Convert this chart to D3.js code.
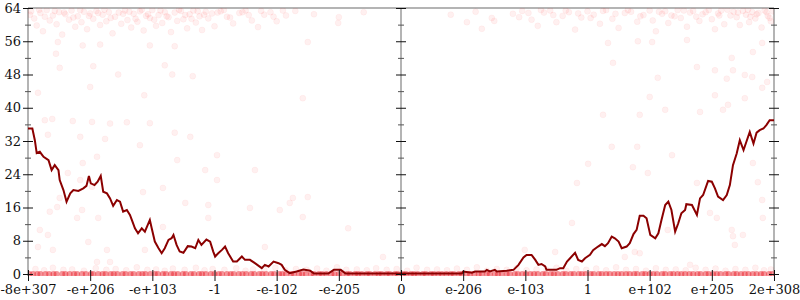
<!DOCTYPE html>
<html>
<head>
<meta charset="utf-8">
<script src="https://cdn.jsdelivr.net/npm/d3@7"></script>
<style>
  body { margin: 0; background: #fff; }
</style>
</head>
<body>
<svg id="chart" width="800" height="300"></svg>
<script>
// x positions are in "tick units": 0 = -8e+307 ... 6 = 0 ... 12 = 2e+308
var xLabels = ["-8e+307", "-e+206", "-e+103", "-1", "-e-102", "-e-205", "0",
               "e-206", "e-103", "1", "e+102", "e+205", "2e+308"];
var yMajor = [0, 8, 16, 24, 32, 40, 48, 56, 64];
var yMinor = [4, 12, 20, 28, 36, 44, 52, 60];

// points piled up near 64 bits of error
var topPts = [[0.05,63.2],[0.1,61.5],[0.14,59.8],[0.2,62.8],[0.24,58.4],[0.3,63.5],[0.35,61.0],[0.4,62.2],
  [0.46,60.1],[0.5,63.0],[0.55,57.6],[0.6,62.5],[0.66,61.2],[0.7,63.4],[0.76,59.5],[0.8,62.0],[0.86,60.6],
  [0.9,63.1],[0.95,58.9],[1.0,62.7],[1.05,61.4],[1.1,63.3],[1.16,59.9],[1.2,62.4],[1.26,60.8],[1.3,63.0],
  [1.36,57.9],[1.4,61.9],[1.46,62.9],[1.5,60.2],[1.56,63.4],[1.6,61.1],[1.66,59.3],[1.7,62.6],[1.76,60.7],
  [1.8,63.2],[1.86,58.6],[1.9,62.1],[1.96,61.6],[2.0,63.5],[2.06,59.7],[2.1,62.3],[2.16,60.4],[2.2,63.0],
  [2.26,61.8],[2.3,58.2],[2.36,62.9],[2.4,60.9],[2.46,63.3],[2.5,61.3],[2.56,59.1],[2.6,62.5],[2.66,63.4],
  [2.7,60.5],[2.76,62.0],[2.8,58.7],[2.86,63.1],[2.9,61.5],[2.96,62.7],[3.0,59.6],[3.1,63.2],[3.2,61.9],
  [3.3,60.3],[3.4,62.8],[3.5,63.4],[3.6,61.0],[3.7,59.4],[3.8,62.4],[3.9,63.0],[4.0,60.8],[4.15,62.2],
  [4.3,63.3],[4.6,62.5],[5.0,61.8],[5.4,63.0],[6.8,62.4],[7.2,63.1],[7.5,60.9],
  [7.8,62.6],[7.95,63.3],[8.1,61.2],[8.2,59.7],[8.3,62.9],[8.4,63.4],[8.5,60.6],[8.6,62.1],[8.7,63.0],
  [8.8,58.8],[8.9,61.7],[9.0,63.2],[9.1,62.4],[9.2,60.2],[9.3,63.5],[9.4,61.4],[9.5,59.2],[9.6,62.8],
  [9.7,63.1],[9.8,60.7],[9.9,62.3],[10.0,63.4],[10.05,61.0],[10.1,58.4],[10.2,62.6],[10.25,63.2],[10.3,60.4],
  [10.4,62.0],[10.45,63.5],[10.5,61.6],[10.6,59.5],[10.65,62.9],[10.7,63.3],[10.8,60.9],[10.85,62.5],
  [10.9,63.0],[11.0,61.3],[11.05,58.9],[11.1,62.7],[11.15,63.4],[11.2,60.1],[11.3,62.2],[11.35,63.1],
  [11.4,61.8],[11.45,59.9],[11.5,63.3],[11.55,62.4],[11.6,60.6],[11.65,63.0],[11.7,61.5],[11.75,62.8],
  [11.8,59.3],[11.85,63.4],[11.9,62.1],[11.95,60.8],[11.98,63.2],
  [0.03,62.4],[0.18,63.6],[0.27,61.9],[0.43,63.3],[0.58,62.9],[0.73,61.7],[0.84,63.5],[0.98,62.1],
  [1.13,62.8],[1.23,63.6],[1.33,61.6],[1.53,62.6],[1.63,63.1],[1.73,61.4],[1.83,63.6],[1.93,62.5],
  [2.03,61.2],[2.13,63.4],[2.23,62.0],[2.43,63.6],[2.53,62.3],[2.63,61.4],[2.73,63.2],[2.83,62.4],
  [3.05,62.9],[3.15,63.5],[3.25,61.7],[3.45,63.0],[3.55,62.3],[3.75,63.3],[3.95,61.9],[4.1,63.4],
  [7.9,61.8],[8.05,62.8],[8.25,63.5],[8.45,62.3],[8.65,63.4],[8.85,62.7],[9.05,61.6],[9.25,63.3],
  [9.45,62.6],[9.65,63.5],[9.85,62.0],[10.15,63.1],[10.35,62.2],[10.55,63.4],[10.75,61.9],[10.95,63.5],
  [11.12,62.2],[11.25,63.6],[11.42,62.9],[11.58,63.6],[11.72,62.5],[11.88,63.0],[11.93,61.6],[11.62,61.9]];

// points scattered through the middle of the range
var midPts = [[0.48,55.8],[0.88,55.0],[1.16,55.2],[1.96,55.0],[2.36,54.8],[0.45,53.0],[0.51,49.6],[1.05,50.0],
  [1.45,48.0],[2.2,50.2],[2.32,48.0],[2.65,47.6],[0.16,43.6],[1.0,45.0],[1.87,43.0],[0.27,37.0],[0.39,37.3],
  [0.72,36.8],[1.03,36.6],[1.32,36.2],[1.59,36.5],[1.96,36.3],[2.36,34.0],[0.32,33.5],[0.84,33.0],[1.24,32.5],
  [1.8,31.0],[2.61,33.0],[0.64,24.3],[0.84,22.6],[1.11,28.2],[1.03,21.0],[0.35,15.0],[0.47,16.1],[0.19,10.6],
  [0.32,9.4],[0.40,5.8],[0.16,6.5],[0.79,13.5],[0.87,15.4],[1.13,13.5],[0.97,7.7],[1.27,5.8],[1.32,2.9],
  [1.11,2.9],[1.85,19.7],[2.17,20.7],[1.88,5.8],[2.40,27.4],[2.53,17.1],[2.17,11.3],[0.88,26.7],[0.51,18.3],
  [3.04,28.6],[2.85,25.0],[3.04,22.6],[3.65,25.0],[2.9,16.6],[2.9,13.5],[3.57,15.9],[4.05,15.4],[4.21,17.1],
  [4.26,18.3],[4.5,18.5],[4.42,13.7],[5.15,11.0],[5.71,4.1],[3.81,6.5],[4.99,60.4],[4.5,55.8],[4.42,42.3],
  [7.06,60.6],[7.3,59.0],[7.46,61.6],
  [9.41,50.8],[10.13,47.2],[10.0,42.6],[10.25,39.5],[10.76,49.8],[11.05,49.0],[11.24,47.0],[11.34,49.0],
  [11.53,47.9],[11.65,47.4],[11.81,44.8],[11.89,46.2],[11.05,43.0],[11.18,39.5],[11.26,40.7],[10.81,39.0],
  [11.53,42.3],[11.66,53.4],[11.81,55.6],[11.32,52.0],[10.6,56.3],[10.04,55.8],[9.81,56.0],[9.33,55.6],
  [9.25,38.3],[9.84,38.3],[9.39,30.6],[9.8,30.6],[9.73,25.7],[9.97,24.3],[10.36,28.6],[10.76,21.9],
  [10.97,14.7],[11.08,13.5],[11.32,10.6],[11.34,9.1],[11.5,9.4],[11.37,7.0],[11.81,17.8],[11.82,13.5],
  [11.74,22.1],[11.66,26.7],[10.65,2.2],[10.29,10.6],[9.76,5.3],[9.84,5.0],[9.6,4.1],[9.01,26.5],
  [8.83,21.9],[8.75,12.3],[8.48,5.3],[7.99,5.8]];

// points with (almost) no error
var zeroX = [0.02,0.08,0.15,0.2,0.28,0.34,0.41,0.46,0.55,0.6,0.67,0.74,0.79,0.87,0.93,1.01,1.05,1.13,1.2,
  1.25,1.33,1.38,1.44,1.52,1.57,1.65,1.7,1.78,1.84,1.89,1.97,2.04,2.09,2.17,2.22,2.3,2.35,2.41,2.49,2.54,
  2.62,2.67,2.75,2.8,2.86,2.94,3.0,3.07,3.12,3.2,3.26,3.31,3.39,3.45,3.51,3.59,3.64,3.72,3.77,3.83,3.91,
  3.96,4.04,4.09,4.15,4.23,4.28,4.36,4.41,4.47,4.55,4.6,4.68,4.73,4.8,4.88,4.93,5.0,5.05,5.13,5.18,5.26,
  5.31,5.37,5.45,5.5,5.58,5.64,5.69,5.77,5.82,5.9,5.95,6.03,6.08,6.16,6.21,6.27,6.35,6.4,6.48,6.53,6.6,
  6.66,6.73,6.8,6.85,6.93,6.98,7.06,7.11,7.18,7.25,7.3,7.38,7.43,7.51,7.56,7.62,7.7,7.75,7.83,7.88,7.95,
  8.01,8.08,8.14,8.2,8.28,8.33,8.41,8.46,8.52,8.6,8.65,8.73,8.78,8.86,8.91,8.97,9.05,9.1,9.18,9.23,9.3,
  9.36,9.43,9.49,9.55,9.62,9.68,9.75,9.8,9.88,9.93,10.0,10.06,10.12,10.2,10.25,10.33,10.38,10.45,10.51,
  10.57,10.64,10.7,10.77,10.82,10.9,10.95,11.02,11.08,11.14,11.22,11.27,11.35,11.4,11.47,11.53,11.59,
  11.66,11.72,11.79,11.84,11.92,11.97];
var lowPts = [[0.12,1.2],[0.4,1.5],[0.71,1.1],[1.09,1.4],[1.41,1.2],[1.75,1.6],[2.06,1.1],[2.33,1.3],
  [2.7,1.5],[2.97,1.2],[3.35,1.4],[3.62,1.1],[3.98,1.5],[4.31,1.2],[4.65,1.3],[4.97,1.6],[5.29,1.1],
  [5.6,1.4],[5.93,1.2],[6.25,1.5],[6.58,1.1],[6.9,1.3],[7.22,1.6],[7.54,1.2],[7.86,1.4],[8.18,1.1],
  [8.5,1.5],[8.82,1.2],[9.14,1.3],[9.46,1.6],[9.78,1.2],[10.1,1.4],[10.42,1.1],[10.74,1.5],[11.06,1.3],
  [11.38,1.2],[11.7,1.5],[11.95,1.1],[0.26,0.9],[0.57,1.0],[0.9,0.8],[1.26,1.0],[1.58,0.9],[1.92,1.0],
  [2.2,0.8],[2.52,1.0],[2.84,0.9],[3.16,1.0],[3.5,0.8],[3.8,1.0],[4.14,0.9],[4.48,1.0],[4.8,0.8],
  [5.12,1.0],[5.45,0.9],[5.77,1.0],[6.1,0.8],[6.42,1.0],[6.74,0.9],[7.06,1.0],[7.38,0.8],[7.7,1.0],
  [8.02,0.9],[8.34,1.0],[8.66,0.8],[8.98,1.0],[9.3,0.9],[9.62,1.0],[9.94,0.8],[10.26,1.0],[10.58,0.9],
  [10.9,1.0],[11.22,0.8],[11.54,1.0],[11.84,0.9]];

// running average of the error
var avgLine = [[0,35],[0.07,35],[0.11,32.2],[0.14,29.1],[0.19,29.4],[0.25,28.2],[0.33,27.4],[0.38,25],
  [0.43,26.2],[0.49,25],[0.51,22.6],[0.57,20.2],[0.62,17.4],[0.68,19.4],[0.73,20.2],[0.81,20],[0.89,20.6],
  [0.94,21.2],[0.98,23.6],[1.01,21.8],[1.07,21.4],[1.12,22.2],[1.17,23.6],[1.21,19.8],[1.27,19.4],
  [1.32,18.2],[1.37,16.4],[1.43,17.8],[1.48,17.4],[1.53,15],[1.59,15.4],[1.64,14.2],[1.67,13],[1.72,11],
  [1.77,9.8],[1.83,11],[1.88,10.2],[1.96,13],[1.99,11],[2.04,7.8],[2.1,6.2],[2.15,5],[2.2,6.2],[2.26,8.2],
  [2.31,8.6],[2.34,9.4],[2.39,7],[2.44,5.4],[2.5,5.1],[2.57,6.7],[2.63,6.6],[2.69,6.2],[2.74,8.2],[2.79,7],
  [2.87,8.3],[2.93,7.8],[2.98,5.4],[3.01,4.2],[3.06,5],[3.12,5.8],[3.17,6.6],[3.22,5],[3.3,3],[3.36,3],
  [3.44,4.2],[3.49,3.4],[3.57,3.4],[3.65,2.6],[3.76,1.4],[3.81,2.2],[3.87,1.8],[3.95,3],[4.03,2.6],
  [4.08,2.2],[4.13,1],[4.21,0.2],[4.32,0.6],[4.43,1.1],[4.54,0.8],[4.6,0.1],[4.83,0.1],[4.92,1],[5.03,1],
  [5.11,0.1],[6,0.1],[6.98,0.1],[7,0.6],[7.14,0.3],[7.19,0.6],[7.35,0.6],[7.38,1],[7.43,0.6],[7.51,1],
  [7.54,0.6],[7.7,0.8],[7.81,1],[7.89,2.2],[7.97,4],[8.02,4.6],[8.1,4.6],[8.16,3.4],[8.21,2.2],[8.26,2.4],
  [8.32,1.8],[8.34,1],[8.5,1],[8.56,1.4],[8.61,1.4],[8.67,3],[8.72,3.8],[8.8,5.1],[8.85,3.4],[8.91,3],
  [8.96,3.8],[9.04,4.6],[9.09,5.7],[9.17,6.6],[9.23,7.2],[9.28,6.7],[9.33,7.4],[9.39,9],[9.44,8.6],
  [9.5,7.8],[9.55,6.2],[9.63,6.6],[9.68,7.4],[9.74,9.6],[9.79,10.6],[9.84,14],[9.9,14],[9.95,13.4],
  [10.01,9.4],[10.09,8.6],[10.14,9.8],[10.19,13],[10.25,16.6],[10.3,17.4],[10.35,15.4],[10.41,10.2],
  [10.46,12.2],[10.51,14.6],[10.57,15.4],[10.59,16.8],[10.68,16.6],[10.76,14.2],[10.81,18.2],[10.86,19],
  [10.94,22.4],[11,22.2],[11.05,20.6],[11.1,18.6],[11.18,17.8],[11.24,19],[11.29,21.4],[11.34,26.2],
  [11.4,29],[11.45,32.2],[11.51,29.8],[11.56,32],[11.61,34.2],[11.67,31.4],[11.72,34],[11.77,34.6],
  [11.83,35],[11.88,35.9],[11.93,37],[12,37]];

var svg = d3.select("#chart");
var x = d3.scaleLinear().domain([0, 12]).range([28, 774]);
var y = d3.scaleLinear().domain([0, 64]).range([274, 8]);
var serif = "'DejaVu Serif', 'Liberation Serif', serif";

svg.append("clipPath").attr("id", "plot-clip")
    .append("rect").attr("x", x(0)).attr("y", y(64)).attr("width", x(12) - x(0)).attr("height", y(0) - y(64) + 2);

// frame lines
var frame = svg.append("g").attr("stroke", "#b4b4b4").attr("stroke-width", 2);
frame.append("line").attr("x1", x(0)).attr("x2", x(12)).attr("y1", y(64)).attr("y2", y(64));
[0, 6, 12].forEach(function(v) {
    frame.append("line").attr("x1", x(v)).attr("x2", x(v)).attr("y1", y(64)).attr("y2", y(0) + 2);
});

// points
var pts = svg.append("g").attr("clip-path", "url(#plot-clip)");
pts.selectAll(".pt").data(topPts.concat(midPts, lowPts)).enter().append("circle")
    .attr("class", "pt")
    .attr("cx", function(d) { return x(d[0]); })
    .attr("cy", function(d) { return y(d[1]); })
    .attr("r", 3)
    .attr("fill", "red").attr("fill-opacity", 0.06)
    .attr("stroke", "red").attr("stroke-opacity", 0.04);
pts.selectAll(".zero").data(zeroX).enter().append("circle")
    .attr("class", "zero")
    .attr("cx", function(d) { return x(d); })
    .attr("cy", y(0))
    .attr("r", 3)
    .attr("fill", "#e8141e").attr("fill-opacity", 0.45);

// average line
svg.append("path")
    .datum(avgLine)
    .attr("fill", "none")
    .attr("stroke", "#8b0000")
    .attr("stroke-width", 2)
    .attr("d", d3.line().x(function(d) { return x(d[0]); }).y(function(d) { return y(d[1]); }));

// x axis
var xAxis = svg.append("g").attr("transform", "translate(0," + y(0) + ")")
    .call(d3.axisBottom(x).tickValues(d3.range(13)).tickFormat(function(i) { return xLabels[i]; }).tickSize(6))
    .attr("font-family", serif).attr("font-size", 13);
xAxis.select(".domain").remove();
xAxis.selectAll(".tick line").attr("y1", -4).attr("y2", 7).attr("stroke", "#111");
xAxis.selectAll(".tick text").attr("y", 11).attr("fill", "#111");

// y axes: labelled on the left, bare at 0 and at the right end
[0, 6, 12].forEach(function(v) {
    var g = svg.append("g").attr("transform", "translate(" + x(v) + ",0)")
        .call(d3.axisLeft(y).tickValues(yMajor).tickSize(5))
        .attr("font-family", serif).attr("font-size", 13);
    g.select(".domain").remove();
    g.selectAll(".tick line").attr("x1", -5).attr("x2", 5).attr("stroke", "#111");
    g.selectAll(".tick text").attr("x", -7).attr("fill", "#111");
    if (v !== 0) g.selectAll(".tick text").remove();

    var m = svg.append("g").attr("transform", "translate(" + x(v) + ",0)")
        .call(d3.axisLeft(y).tickValues(yMinor).tickFormat("").tickSize(3));
    m.select(".domain").remove();
    m.selectAll(".tick line").attr("x1", -3).attr("x2", 3).attr("stroke", "#555");
});
</script>
</body>
</html>
